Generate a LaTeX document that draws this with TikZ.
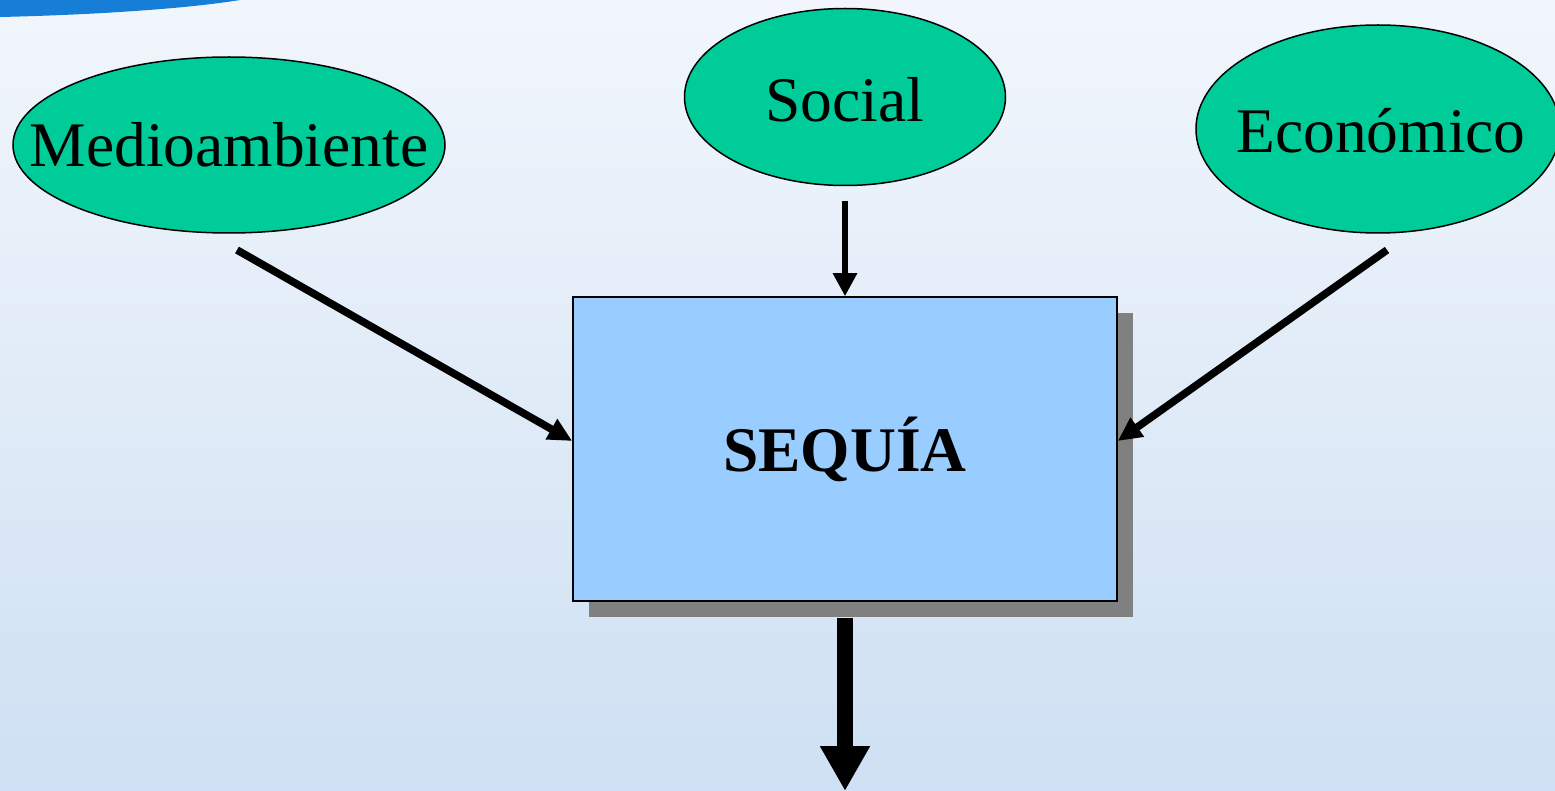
\documentclass[tikz,border=0pt]{standalone}
\usepackage{fontspec}
\setmainfont{Liberation Serif}
\usetikzlibrary{shapes.geometric,arrows.meta,shadows}

\definecolor{ovalgreen}{RGB}{0,204,153}
\definecolor{boxblue}{RGB}{153,204,255}
\definecolor{shadowgray}{RGB}{128,128,128}
\definecolor{bgtop}{RGB}{242,246,252}
\definecolor{bgbottom}{RGB}{206,224,243}
\definecolor{cornerblue}{RGB}{22,126,214}

\tikzset{
  oval/.style={ellipse, draw=black, line width=0.75pt, fill=ovalgreen, inner sep=0pt},
  ovaltext/.style={font=\fontsize{31.75}{38}\selectfont, inner sep=0pt},
  factor/.style={-{Triangle[length=12pt,width=11pt]}, line width=3.8pt},
}

\begin{document}
\begin{tikzpicture}[x=0.5pt,y=0.5pt,yscale=-1,xscale=1]
    \useasboundingbox (0,0) rectangle (1555,791);
    \clip (0,0) rectangle (1555,791);

    %Shape: Background
    \fill [top color=bgtop, bottom color=bgbottom] (0,0) rectangle (1555,791);
    %Shape: Corner band
    \fill [cornerblue] (0,0) -- (240,0) .. controls (185,9) and (90,15) .. (0,17) -- cycle;

    %Shape: Ellipse [id:med]
    \node [oval, minimum width=216pt, minimum height=88pt, label={[ovaltext]center:Medioambiente}] (med) at (229,145) {};
    %Shape: Ellipse [id:soc]
    \node [oval, minimum width=160.5pt, minimum height=88.5pt, label={[ovaltext, yshift=-1.5pt]center:Social}] (soc) at (845,97) {};
    %Shape: Ellipse [id:eco]
    \node [oval, minimum width=182pt, minimum height=104pt, label={[ovaltext, xshift=1.5pt, yshift=-1pt]center:Económico}] (eco) at (1378,129) {};

    %Shape: Rectangle [id:seq]
    \node [draw=black, line width=0.75pt, fill=boxblue, minimum width=272pt, minimum height=152pt,
           drop shadow={shadow xshift=8pt, shadow yshift=-8pt, fill=shadowgray, opacity=1},
           font=\fontsize{31.75}{38}\selectfont\bfseries] (seq) at (845,449) {SEQUÍA};

    % Free ends
    \coordinate (med tail) at (237,250);
    \coordinate (soc tail) at (845,201);
    \coordinate (eco tail) at (1387,250);
    \coordinate (out tip) at (845,791);

    %Straight Lines [id:med-seq]
    \draw [factor] (med tail) -- ([yshift=-4pt]seq.west);
    %Straight Lines [id:soc-seq]
    \draw [-{Triangle[length=11.5pt,width=11.5pt]}, line width=2.8pt] (soc tail) -- (seq.north);
    %Straight Lines [id:eco-seq]
    \draw [factor] (eco tail) -- ([yshift=-4pt]seq.east);
    %Straight Lines [id:seq-out]
    \draw [-{Triangle[length=22.5pt,width=23.5pt]}, line width=8pt] ([yshift=8pt]seq.south) -- (out tip);

\end{tikzpicture}
\end{document}
